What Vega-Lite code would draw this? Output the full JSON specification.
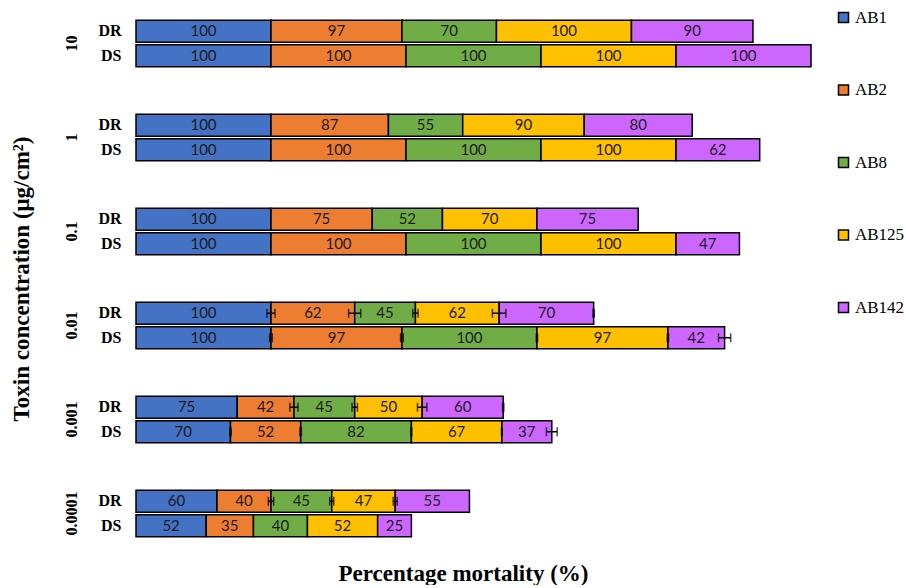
{
  "$schema": "https://vega.github.io/schema/vega-lite/v6.json",
  "padding": {"left": 10, "top": 9, "right": 5, "bottom": 0},
  "background": "white",
  "data": {"values": [
    {"conc": "10", "tox": "DR", "isolate": "AB1", "value": 100, "err": 0},
    {"conc": "10", "tox": "DR", "isolate": "AB2", "value": 97, "err": 0},
    {"conc": "10", "tox": "DR", "isolate": "AB8", "value": 70, "err": 0},
    {"conc": "10", "tox": "DR", "isolate": "AB125", "value": 100, "err": 0},
    {"conc": "10", "tox": "DR", "isolate": "AB142", "value": 90, "err": 0},
    {"conc": "10", "tox": "DS", "isolate": "AB1", "value": 100, "err": 0},
    {"conc": "10", "tox": "DS", "isolate": "AB2", "value": 100, "err": 0},
    {"conc": "10", "tox": "DS", "isolate": "AB8", "value": 100, "err": 0},
    {"conc": "10", "tox": "DS", "isolate": "AB125", "value": 100, "err": 0},
    {"conc": "10", "tox": "DS", "isolate": "AB142", "value": 100, "err": 0},
    {"conc": "1", "tox": "DR", "isolate": "AB1", "value": 100, "err": 0},
    {"conc": "1", "tox": "DR", "isolate": "AB2", "value": 87, "err": 0},
    {"conc": "1", "tox": "DR", "isolate": "AB8", "value": 55, "err": 0},
    {"conc": "1", "tox": "DR", "isolate": "AB125", "value": 90, "err": 0},
    {"conc": "1", "tox": "DR", "isolate": "AB142", "value": 80, "err": 0},
    {"conc": "1", "tox": "DS", "isolate": "AB1", "value": 100, "err": 0},
    {"conc": "1", "tox": "DS", "isolate": "AB2", "value": 100, "err": 0},
    {"conc": "1", "tox": "DS", "isolate": "AB8", "value": 100, "err": 0},
    {"conc": "1", "tox": "DS", "isolate": "AB125", "value": 100, "err": 0},
    {"conc": "1", "tox": "DS", "isolate": "AB142", "value": 62, "err": 0},
    {"conc": "0.1", "tox": "DR", "isolate": "AB1", "value": 100, "err": 0},
    {"conc": "0.1", "tox": "DR", "isolate": "AB2", "value": 75, "err": 0},
    {"conc": "0.1", "tox": "DR", "isolate": "AB8", "value": 52, "err": 0},
    {"conc": "0.1", "tox": "DR", "isolate": "AB125", "value": 70, "err": 0},
    {"conc": "0.1", "tox": "DR", "isolate": "AB142", "value": 75, "err": 0},
    {"conc": "0.1", "tox": "DS", "isolate": "AB1", "value": 100, "err": 0},
    {"conc": "0.1", "tox": "DS", "isolate": "AB2", "value": 100, "err": 0},
    {"conc": "0.1", "tox": "DS", "isolate": "AB8", "value": 100, "err": 0},
    {"conc": "0.1", "tox": "DS", "isolate": "AB125", "value": 100, "err": 0},
    {"conc": "0.1", "tox": "DS", "isolate": "AB142", "value": 47, "err": 0},
    {"conc": "0.01", "tox": "DR", "isolate": "AB1", "value": 100, "err": 3},
    {"conc": "0.01", "tox": "DR", "isolate": "AB2", "value": 62, "err": 4.5},
    {"conc": "0.01", "tox": "DR", "isolate": "AB8", "value": 45, "err": 2},
    {"conc": "0.01", "tox": "DR", "isolate": "AB125", "value": 62, "err": 5},
    {"conc": "0.01", "tox": "DR", "isolate": "AB142", "value": 70, "err": 0.5},
    {"conc": "0.01", "tox": "DS", "isolate": "AB1", "value": 100, "err": 1},
    {"conc": "0.01", "tox": "DS", "isolate": "AB2", "value": 97, "err": 1},
    {"conc": "0.01", "tox": "DS", "isolate": "AB8", "value": 100, "err": 0.5},
    {"conc": "0.01", "tox": "DS", "isolate": "AB125", "value": 97, "err": 0.5},
    {"conc": "0.01", "tox": "DS", "isolate": "AB142", "value": 42, "err": 4.5},
    {"conc": "0.001", "tox": "DR", "isolate": "AB1", "value": 75, "err": 0},
    {"conc": "0.001", "tox": "DR", "isolate": "AB2", "value": 42, "err": 3},
    {"conc": "0.001", "tox": "DR", "isolate": "AB8", "value": 45, "err": 2},
    {"conc": "0.001", "tox": "DR", "isolate": "AB125", "value": 50, "err": 3.5},
    {"conc": "0.001", "tox": "DR", "isolate": "AB142", "value": 60, "err": 0.5},
    {"conc": "0.001", "tox": "DS", "isolate": "AB1", "value": 70, "err": 0.5},
    {"conc": "0.001", "tox": "DS", "isolate": "AB2", "value": 52, "err": 0.5},
    {"conc": "0.001", "tox": "DS", "isolate": "AB8", "value": 82, "err": 0.3},
    {"conc": "0.001", "tox": "DS", "isolate": "AB125", "value": 67, "err": 0.3},
    {"conc": "0.001", "tox": "DS", "isolate": "AB142", "value": 37, "err": 4},
    {"conc": "0.0001", "tox": "DR", "isolate": "AB1", "value": 60, "err": 0},
    {"conc": "0.0001", "tox": "DR", "isolate": "AB2", "value": 40, "err": 2},
    {"conc": "0.0001", "tox": "DR", "isolate": "AB8", "value": 45, "err": 1.5},
    {"conc": "0.0001", "tox": "DR", "isolate": "AB125", "value": 47, "err": 1.5},
    {"conc": "0.0001", "tox": "DR", "isolate": "AB142", "value": 55, "err": 0},
    {"conc": "0.0001", "tox": "DS", "isolate": "AB1", "value": 52, "err": 0},
    {"conc": "0.0001", "tox": "DS", "isolate": "AB2", "value": 35, "err": 0},
    {"conc": "0.0001", "tox": "DS", "isolate": "AB8", "value": 40, "err": 0},
    {"conc": "0.0001", "tox": "DS", "isolate": "AB125", "value": 52, "err": 0},
    {"conc": "0.0001", "tox": "DS", "isolate": "AB142", "value": 25, "err": 0}
  ]},
  "transform": [
    {"calculate": "indexof(['AB1','AB2','AB8','AB125','AB142'], datum.isolate)", "as": "ord"},
    {"stack": "value", "groupby": ["conc", "tox"], "sort": [{"field": "ord", "order": "ascending"}], "as": ["x0", "x1"]},
    {"calculate": "(datum.x0 + datum.x1) / 2", "as": "mid"},
    {"calculate": "datum.x1 - datum.err", "as": "lo"},
    {"calculate": "datum.x1 + datum.err", "as": "hi"}
  ],
  "facet": {
    "row": {
      "field": "conc",
      "type": "ordinal",
      "sort": ["10", "1", "0.1", "0.01", "0.001", "0.0001"],
      "title": "Toxin concentration (μg/cm²)",
      "header": {
        "labelAngle": -90,
        "labelOrient": "left",
        "labelFont": "Liberation Serif",
        "labelFontSize": 16,
        "labelFontWeight": "bold",
        "labelColor": "black",
        "labelPadding": 10,
        "titleOrient": "left",
        "titleFont": "Liberation Serif",
        "titleFontSize": 23,
        "titleFontWeight": "bold",
        "titleColor": "black",
        "titlePadding": 19
      }
    }
  },
  "spacing": 45,
  "spec": {
    "width": 675,
    "height": 49,
    "encoding": {
      "y": {
        "field": "tox",
        "type": "nominal",
        "sort": ["DR", "DS"],
        "scale": {"paddingInner": 0.1, "paddingOuter": 0.05},
        "axis": {
          "title": null,
          "ticks": false,
          "domain": false,
          "labelFont": "Liberation Serif",
          "labelFontSize": 16,
          "labelFontWeight": "bold",
          "labelColor": "black",
          "labelPadding": 14
        }
      }
    },
    "layer": [
      {
        "mark": {"type": "bar", "stroke": "black", "strokeWidth": 1.5},
        "encoding": {
          "x": {
            "field": "x0",
            "type": "quantitative",
            "scale": {"domain": [0, 500], "nice": false},
            "axis": {
              "title": "Percentage mortality (%)",
              "labels": false,
              "ticks": false,
              "domain": false,
              "grid": false,
              "titleFont": "Liberation Serif",
              "titleFontSize": 23,
              "titleFontWeight": "bold",
              "titleColor": "black",
              "titlePadding": 24,
              "titleX": 327
            }
          },
          "x2": {"field": "x1"},
          "color": {
            "field": "isolate",
            "type": "nominal",
            "scale": {
              "domain": ["AB1", "AB2", "AB8", "AB125", "AB142"],
              "range": ["#4472C4", "#ED7D31", "#70AD47", "#FFC000", "#CC66FF"]
            },
            "legend": {
              "title": null,
              "orient": "none",
              "legendX": 699,
              "legendY": -10,
              "symbolType": "square",
              "symbolSize": 100,
              "symbolStrokeColor": "black",
              "symbolStrokeWidth": 1.5,
              "symbolOpacity": 1,
              "labelFont": "Liberation Serif",
              "labelFontSize": 17,
              "labelColor": "black",
              "labelOffset": 3,
              "rowPadding": 54.5
            }
          }
        }
      },
      {
        "mark": {"type": "text", "font": "Lato", "fontSize": 15, "color": "#1a1a1a"},
        "encoding": {
          "x": {"field": "mid", "type": "quantitative"},
          "text": {"field": "value", "type": "quantitative"}
        }
      },
      {
        "transform": [{"filter": "datum.err > 0"}],
        "mark": {"type": "rule", "color": "black", "strokeWidth": 1.5},
        "encoding": {
          "x": {"field": "lo", "type": "quantitative"},
          "x2": {"field": "hi"}
        }
      },
      {
        "transform": [{"filter": "datum.err > 0"}],
        "mark": {"type": "tick", "color": "black", "thickness": 1.5, "size": 9, "orient": "vertical"},
        "encoding": {
          "x": {"field": "lo", "type": "quantitative"}
        }
      },
      {
        "transform": [{"filter": "datum.err > 0"}],
        "mark": {"type": "tick", "color": "black", "thickness": 1.5, "size": 9, "orient": "vertical"},
        "encoding": {
          "x": {"field": "hi", "type": "quantitative"}
        }
      }
    ]
  },
  "config": {"view": {"stroke": null}}
}
